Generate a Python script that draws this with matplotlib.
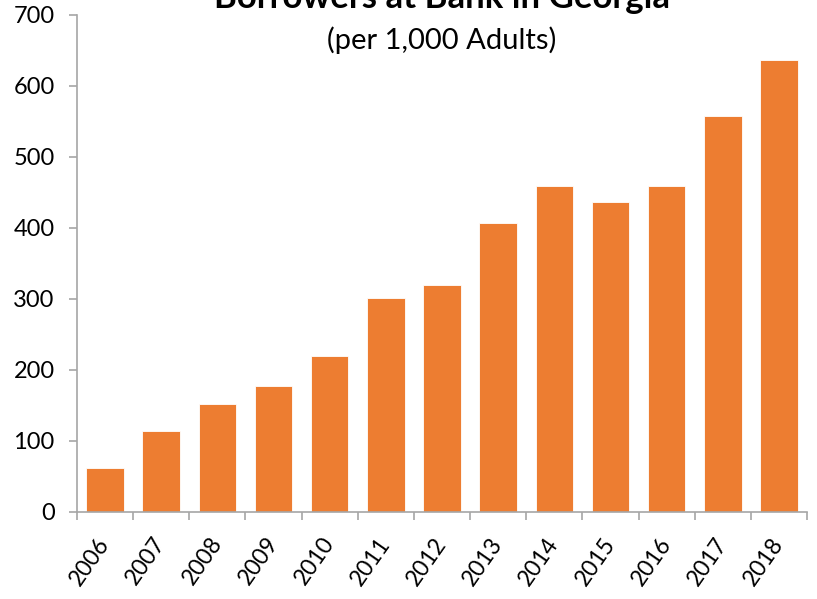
import matplotlib
matplotlib.use("Agg")
import matplotlib.pyplot as plt
import numpy as np

years = ["2006", "2007", "2008", "2009", "2010", "2011", "2012",
         "2013", "2014", "2015", "2016", "2017", "2018"]
borrowers = [61, 114, 152, 177, 219, 301, 320, 407, 459, 436, 459, 558, 636]
y_ticks = [0, 100, 200, 300, 400, 500, 600, 700]

plt.rcParams["font.family"] = ["Lato", "DejaVu Sans"]

figure = plt.figure(figsize=(8.17, 5.99), dpi=100)
ax = figure.add_axes([0.0942, 0.1457, 0.8936, 0.8293])

x = np.arange(len(years))
ax.bar(x, borrowers, width=0.67, color="#ED7D31", edgecolor="white", linewidth=0.6)

ax.set_xlim(-0.5, len(years) - 0.5)
ax.set_ylim(0, 700)
ax.set_yticks(y_ticks)
ax.set_xticks(x)
ax.set_xticklabels(years, rotation=55, ha="right", va="center", rotation_mode="anchor")
ax.set_xticks(np.arange(-0.5, len(years)), minor=True)
ax.tick_params(axis="x", which="major", length=0, labelsize=16.5, pad=20)
ax.tick_params(axis="x", which="minor", length=6, color="#a6a6a6", width=1.2)
ax.tick_params(axis="y", length=6, color="#a6a6a6", width=1.2, labelsize=17, pad=10)

for side in ["top", "right"]:
    ax.spines[side].set_visible(False)
for side in ["left", "bottom"]:
    ax.spines[side].set_color("#a6a6a6")
    ax.spines[side].set_linewidth(1.2)

figure.text(0.541, 0.986, "Borrowers at Bank in Georgia", ha="center", va="baseline",
            fontsize=25, fontweight="bold")
figure.text(0.541, 0.933, "(per 1,000 Adults)", ha="center", va="center", fontsize=21)

figure.savefig("out.png", dpi=100)
